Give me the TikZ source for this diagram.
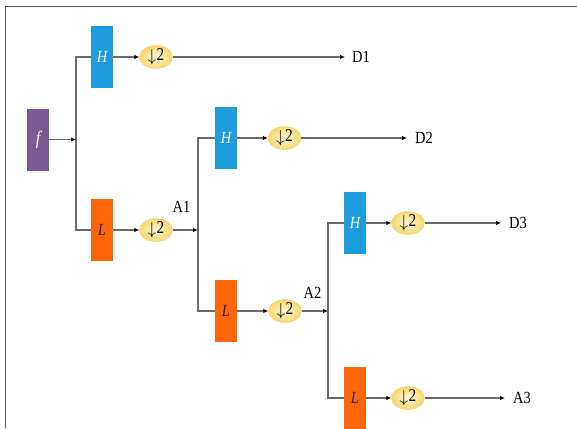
\documentclass[tikz,border=0pt]{standalone}
\usepackage{fontspec}
\setmainfont{Liberation Serif}[FakeStretch=0.85]
\usetikzlibrary{arrows.meta,shapes.geometric}
\definecolor{sigpurple}{HTML}{7B5A93}
\definecolor{hiblue}{HTML}{1E9DDD}
\definecolor{loorange}{HTML}{FF6607}
\definecolor{dnin}{HTML}{FFF7D6}
\definecolor{dnout}{HTML}{F8D76E}
\definecolor{dnline}{HTML}{EFD27A}
\definecolor{wire}{HTML}{6A6A6A}
\definecolor{frameline}{HTML}{555555}
\begin{document}
\begin{tikzpicture}[x=1pt,y=-1pt,
  every node/.style={font=\fontsize{17}{19}\selectfont},
  filt/.style={rectangle,minimum width=22pt,minimum height=62pt,inner sep=0pt},
  sigbox/.style={filt,fill=sigpurple,text=white,font=\fontsize{19}{20}\selectfont\itshape},
  hibox/.style={filt,fill=hiblue,text=white,font=\fontsize{17}{19}\selectfont\itshape},
  lobox/.style={filt,fill=loorange,text=black!85,font=\fontsize{17}{19}\selectfont\itshape},
  dnsamp/.style={ellipse,minimum width=33pt,minimum height=22pt,inner sep=0pt,
    inner color=dnin,outer color=dnout,draw=dnline,line width=0.4pt,
    font=\fontsize{18}{19}\selectfont},
  conn/.style={draw=wire,line width=1.1pt},
  arr/.style={conn,-{Latex[length=5pt,width=4.5pt,color=black]}},
  lbl/.style={anchor=west,inner sep=0pt}]
\useasboundingbox (0,0) rectangle (577,428);
% frame
\draw[frameline,line width=1.6pt] (5.5,428) -- (5.5,6.5) -- (577,6.5);

\newcommand{\dsym}{\raisebox{-1pt}{$\big\downarrow$}\hspace{0.3pt}2}

% level 1
\node[sigbox] (f) at (38,139.5) {f};
\coordinate (j0) at (76,139.5);
\node[hibox] (H1) at (102,57) {H};
\node[lobox] (L1) at (102,230) {L};
\node[dnsamp] (E1) at (156,57) {\dsym};
\node[dnsamp] (E2) at (156,230) {\dsym};
\node[lbl] (D1) at (352,57) {D1};
\node (A1) at (181.5,207) {A1};
\coordinate (j1) at (198,230);

% level 2
\node[hibox] (H2) at (226,138) {H};
\node[lobox] (L2) at (226,311) {L};
\node[dnsamp] (E3) at (284.5,138) {\dsym};
\node[dnsamp] (E4) at (285,311) {\dsym};
\node[lbl] (D2) at (415,138) {D2};
\node (A2) at (312.5,293) {A2};
\coordinate (j2) at (328,311);

% level 3
\node[hibox] (H3) at (355,223) {H};
\node[lobox] (L3) at (355,398) {L};
\node[dnsamp] (E5) at (408,223) {\dsym};
\node[dnsamp] (E6) at (408,398) {\dsym};
\node[lbl] (D3) at (509,223) {D3};
\node[lbl] (A3) at (513,398) {A3};

% wiring
\draw[conn] (H1.west) -| (j0) |- (L1.west);
\draw[arr] (f.east) -- (j0);
\draw[arr] (H1.east) -- (E1.west);
\draw[arr] (E1.east) -- ([xshift=-7pt]D1.west);
\draw[arr] (L1.east) -- (E2.west);
\draw[arr] (E2.east) -- (j1);

\draw[conn] (H2.west) -| (j1) |- (L2.west);
\draw[arr] (H2.east) -- (E3.west);
\draw[arr] (E3.east) -- ([xshift=-8pt]D2.west);
\draw[arr] (L2.east) -- (E4.west);
\draw[arr] (E4.east) -- (j2);

\draw[conn] (H3.west) -| (j2) |- (L3.west);
\draw[arr] (H3.east) -- (E5.west);
\draw[arr] (E5.east) -- ([xshift=-8pt]D3.west);
\draw[arr] (L3.east) -- (E6.west);
\draw[arr] (E6.east) -- ([xshift=-8pt]A3.west);
\end{tikzpicture}
\end{document}
